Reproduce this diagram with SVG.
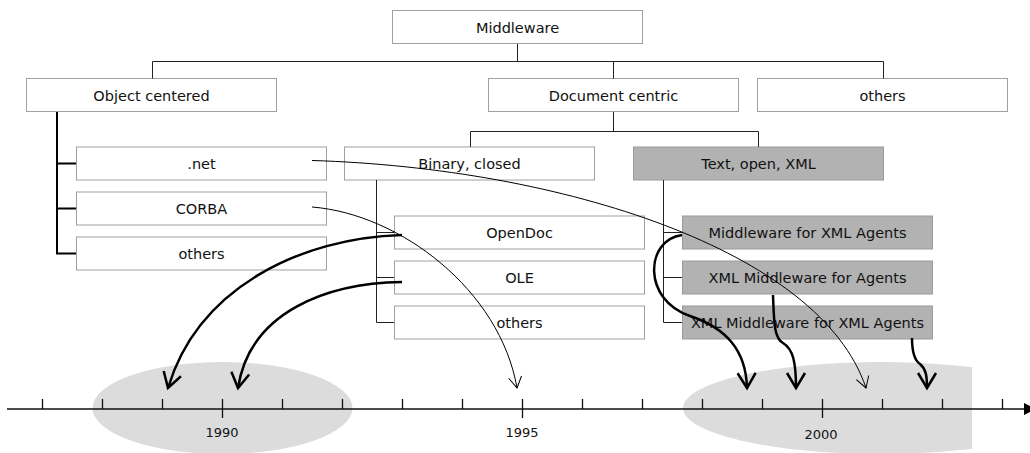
<svg xmlns="http://www.w3.org/2000/svg" width="1030" height="453" viewBox="0 0 1030 453">
<defs>
<style>
.box{fill:#ffffff;stroke:#a0a0a0;stroke-width:1}
.gbox{fill:#b2b2b2;stroke:#9a9a9a;stroke-width:1}
.lbl{font-family:"DejaVu Sans","Liberation Sans",sans-serif;font-size:14.5px;fill:#111;text-anchor:middle}
.yr{font-family:"DejaVu Sans","Liberation Sans",sans-serif;font-size:13px;fill:#111;text-anchor:middle}
.tree{fill:none;stroke:#222;stroke-width:1}
.trunk{fill:none;stroke:#000;stroke-width:2}
.thin{fill:none;stroke:#000;stroke-width:1;marker-end:url(#hThin)}
.thick{fill:none;stroke:#000;stroke-width:2.5;marker-end:url(#hThick)}
.tick{stroke:#111;stroke-width:1.3}
.blob{fill:#dcdcdc}
</style>
<marker id="hThin" markerUnits="userSpaceOnUse" markerWidth="30" markerHeight="30" refX="0" refY="0" viewBox="-15 -15 30 30" orient="auto" overflow="visible">
<path d="M-11,-6.5 L0,0 L-11,6.5" fill="none" stroke="#000" stroke-width="1"/>
</marker>
<marker id="hThick" markerUnits="userSpaceOnUse" markerWidth="40" markerHeight="40" refX="0" refY="0" viewBox="-20 -20 40 40" orient="auto" overflow="visible">
<path d="M-15,-9 L0,0 L-15,9" fill="none" stroke="#000" stroke-width="2.5" stroke-linejoin="miter"/>
</marker>
<clipPath id="cutR"><rect x="0" y="0" width="972" height="453"/></clipPath>
</defs>

<g id="timeline">
<ellipse class="blob" cx="222.5" cy="408" rx="130" ry="46"/>
<ellipse class="blob" cx="880" cy="408" rx="197" ry="46" clip-path="url(#cutR)"/>
<line x1="7" y1="409" x2="1026" y2="409" stroke="#111" stroke-width="1.5"/>
<polygon points="1024,403 1024,415 1036,409" fill="#000"/>
<g class="tick">
<line x1="42.5" y1="399" x2="42.5" y2="409"/>
<line x1="102.5" y1="399" x2="102.5" y2="409"/>
<line x1="162.5" y1="399" x2="162.5" y2="409"/>
<line x1="222.5" y1="399" x2="222.5" y2="418"/>
<line x1="282.5" y1="399" x2="282.5" y2="409"/>
<line x1="342.5" y1="399" x2="342.5" y2="409"/>
<line x1="402.5" y1="399" x2="402.5" y2="409"/>
<line x1="462.5" y1="399" x2="462.5" y2="409"/>
<line x1="522.5" y1="399" x2="522.5" y2="418"/>
<line x1="582.5" y1="399" x2="582.5" y2="409"/>
<line x1="642.5" y1="399" x2="642.5" y2="409"/>
<line x1="702.5" y1="399" x2="702.5" y2="409"/>
<line x1="762.5" y1="399" x2="762.5" y2="409"/>
<line x1="822.5" y1="399" x2="822.5" y2="418"/>
<line x1="882.5" y1="399" x2="882.5" y2="409"/>
<line x1="942.5" y1="399" x2="942.5" y2="409"/>
<line x1="1002.5" y1="399" x2="1002.5" y2="409"/>
</g>
<text class="yr" x="222" y="437">1990</text>
<text class="yr" x="522" y="437">1995</text>
<text class="yr" x="821" y="439">2000</text>
</g>

<g id="nodes">
<g id="n-middleware"><rect class="box" x="392.5" y="10.5" width="250" height="33"/><text class="lbl" x="517.5" y="32.5">Middleware</text></g>
<g id="n-object"><rect class="box" x="26.5" y="78.5" width="250" height="33"/><text class="lbl" x="151.5" y="100.5">Object centered</text></g>
<g id="n-document"><rect class="box" x="488.5" y="78.5" width="250" height="33"/><text class="lbl" x="613.5" y="100.5">Document centric</text></g>
<g id="n-others1"><rect class="box" x="757.5" y="78.5" width="250" height="33"/><text class="lbl" x="882.5" y="100.5">others</text></g>
<g id="n-net"><rect class="box" x="76.5" y="147" width="250" height="33"/><text class="lbl" x="201.5" y="169">.net</text></g>
<g id="n-corba"><rect class="box" x="76.5" y="192" width="250" height="33"/><text class="lbl" x="201.5" y="214">CORBA</text></g>
<g id="n-others2"><rect class="box" x="76.5" y="237" width="250" height="33"/><text class="lbl" x="201.5" y="259">others</text></g>
<g id="n-binary"><rect class="box" x="344.5" y="147" width="250" height="33"/><text class="lbl" x="469.5" y="169">Binary, closed</text></g>
<g id="n-text"><rect class="gbox" x="633.5" y="147" width="250" height="33"/><text class="lbl" x="758.5" y="169">Text, open, XML</text></g>
<g id="n-opendoc"><rect class="box" x="394.5" y="216" width="250" height="33"/><text class="lbl" x="519.5" y="238">OpenDoc</text></g>
<g id="n-ole"><rect class="box" x="394.5" y="261" width="250" height="33"/><text class="lbl" x="519.5" y="283">OLE</text></g>
<g id="n-others3"><rect class="box" x="394.5" y="306" width="250" height="33"/><text class="lbl" x="519.5" y="328">others</text></g>
<g id="n-mxa"><rect class="gbox" x="682.5" y="216" width="250" height="33"/><text class="lbl" x="807.5" y="238">Middleware for XML Agents</text></g>
<g id="n-xma"><rect class="gbox" x="682.5" y="261" width="250" height="33"/><text class="lbl" x="807.5" y="283">XML Middleware for Agents</text></g>
<g id="n-xmxa"><rect class="gbox" x="682.5" y="306" width="250" height="33"/><text class="lbl" x="807.5" y="328">XML Middleware for XML Agents</text></g>
</g>

<g id="connectors">
<path class="tree" d="M517.5,44 V61.5 M152.5,61.5 H883.5 M152.5,61.5 V78.5 M613.5,61.5 V78.5 M883.5,61.5 V78.5"/>
<path class="tree" d="M613.5,112 V131.5 M470.5,131.5 H758.5 M470.5,131.5 V147 M758.5,131.5 V147"/>
<path class="trunk" d="M57,112 V253.5 H76 M57,163.5 H76 M57,208.5 H76"/>
<path class="tree" d="M376.5,180 V322.5 H394 M376.5,232.5 H394 M376.5,277.5 H394"/>
<path class="tree" d="M663.5,180 V322.5 H682 M663.5,232.5 H682 M663.5,277.5 H682"/>
<path class="thin" d="M312,160.5 C560,168 820,250 866,388"/>
<path class="thin" d="M312,207 C400,214 500,290 517,388"/>
<path class="thick" d="M402,235 C300,238 198,288 168,388"/>
<path class="thick" d="M402,282 C330,283 250,310 238,388"/>
<path class="thick" d="M682,235 C645,240 642,300 690,316 C726,328 746,350 747,388"/>
<path class="thick" d="M773,295 C774,322 774,338 783,343 C793,349 796,362 796,388"/>
<path class="thick" d="M912,338 C912,352 914,360 920,364 C926,369 927,376 927,388"/>
</g>
</svg>
